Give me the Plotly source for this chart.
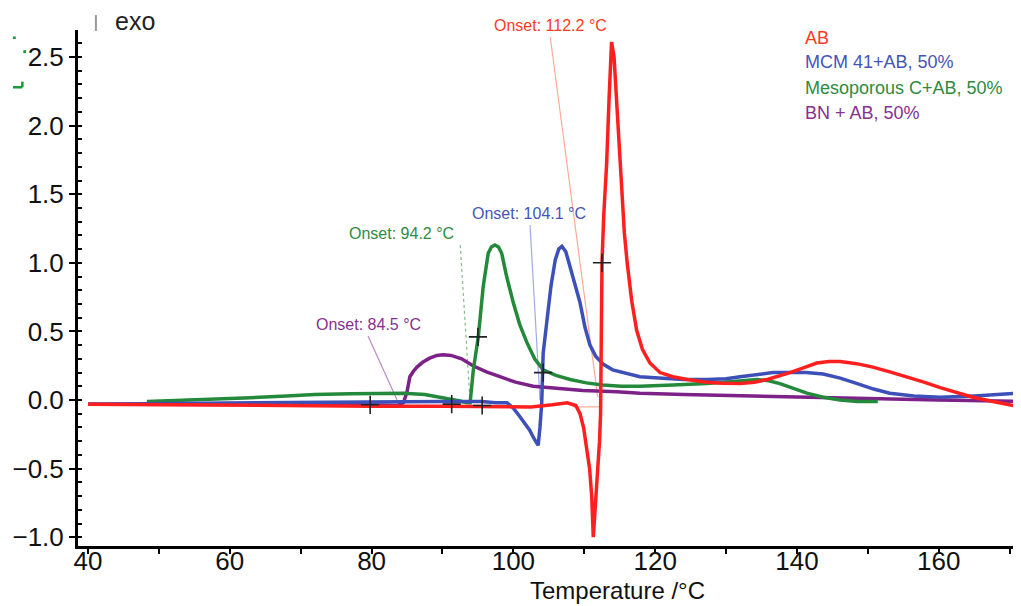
import plotly.graph_objects as go

# ---------------- data ----------------
ab_T = [40, 50, 60, 70, 80, 90, 98.5, 102.5, 105.5, 107.6, 108.8, 109.4, 109.9, 110.35, 110.75,
        111.05, 111.27, 111.5, 111.75, 111.98, 112.15, 112.3, 112.4, 112.5, 112.75, 113.15, 113.5,
        113.85, 114.2, 114.6, 114.95, 115.26, 115.65, 116.05, 116.7, 117.38, 118.2, 119.26, 120.68,
        122.5, 124.5, 127.3, 129.5, 132.0, 134, 135.8, 137.5, 139.0, 140.9, 142.8, 144.5, 146.1,
        148.4, 150.7, 153.1, 155.5, 157.9, 160.2, 162.5, 164.8, 168, 171.5]
ab_y = [-0.03, -0.035, -0.04, -0.04, -0.045, -0.045, -0.05, -0.05, -0.035, -0.02, -0.04, -0.1, -0.2,
        -0.34, -0.5, -0.7, -1.0, -0.82, -0.62, -0.46, -0.3, -0.1, 0.4, 1.0, 1.35, 1.72, 2.2, 2.61,
        2.5, 2.15, 1.8, 1.48, 1.22, 1.0, 0.72, 0.51, 0.37, 0.27, 0.2, 0.17, 0.15, 0.13, 0.122, 0.12,
        0.13, 0.15, 0.175, 0.2, 0.235, 0.27, 0.28, 0.28, 0.265, 0.24, 0.205, 0.17, 0.13, 0.09, 0.055,
        0.02, -0.015, -0.05]

mcm_T = [40, 50, 60, 70, 80, 90, 95.5, 97.5, 99.1, 100.0, 100.9, 101.6, 102.3, 102.9, 103.5, 103.75,
         104.0, 104.2, 104.7, 105.0, 105.3, 105.9, 106.4, 106.85, 107.4, 108.0, 108.7, 109.4, 110.1,
         110.8, 111.6, 112.7, 114.0, 115.45, 117.85, 120.5, 124, 127.3, 130, 132.0, 134.3, 136.6, 139,
         141.3, 143.7, 146.1, 148.5, 150.8, 153.1, 156.5, 160.2, 165, 171.5]
mcm_y = [-0.03, -0.025, -0.02, -0.02, -0.015, -0.01, -0.01, -0.02, -0.02, -0.06, -0.12, -0.17, -0.22,
         -0.28, -0.33, -0.2, -0.02, 0.34, 0.58, 0.71, 0.83, 1.02, 1.1, 1.12, 1.08, 0.97, 0.84, 0.71,
         0.53, 0.4, 0.32, 0.26, 0.22, 0.2, 0.17, 0.16, 0.15, 0.15, 0.155, 0.17, 0.185, 0.2, 0.2, 0.2,
         0.19, 0.16, 0.12, 0.08, 0.05, 0.03, 0.02, 0.03, 0.05]

mesoc_T = [48.3, 55, 62, 68, 72, 77, 81, 84.5, 87.5, 90.6, 92.3, 93.45, 93.9, 94.35, 95.05, 95.75,
           96.45, 96.9, 97.4, 97.9, 98.35, 99.05, 99.98, 100.9, 101.9, 103.0, 104.2, 106, 108.0,
           110.3, 112.6, 115.2, 117.85, 122.5, 127.3, 131, 134.4, 136.0, 137.6, 139.5, 141.4, 143.7,
           146.1, 148.5, 151.4]
mesoc_y = [-0.01, 0.0, 0.015, 0.03, 0.04, 0.045, 0.05, 0.05, 0.04, 0.015, -0.005, -0.02, -0.02, 0.22,
           0.46, 0.83, 1.07, 1.115, 1.13, 1.115, 1.07, 0.9, 0.71, 0.55, 0.42, 0.3, 0.22, 0.18, 0.15,
           0.125, 0.11, 0.1, 0.1, 0.11, 0.12, 0.135, 0.15, 0.14, 0.12, 0.085, 0.05, 0.02, 0.0, -0.01,
           -0.01]

bn_T = [40, 50, 60, 70, 80, 83.6, 84.5, 85.0, 85.4, 85.9, 86.4, 87.2, 88.2, 89.2, 90.1, 91.2, 92.7,
        94.3, 96.2, 98.1, 100.3, 102.8, 106, 109.8, 114.6, 117.85, 124, 132, 141.4, 150, 160, 171.5]
bn_y = [-0.03, -0.03, -0.03, -0.03, -0.035, -0.04, -0.02, 0.06, 0.17, 0.21, 0.24, 0.275, 0.305,
        0.325, 0.33, 0.325, 0.3, 0.25, 0.205, 0.17, 0.13, 0.1, 0.085, 0.07, 0.06, 0.05, 0.04, 0.03,
        0.02, 0.01, 0.0, -0.01]

series_names = ["AB", "MCM 41+AB, 50%", "Mesoporous C+AB, 50%", "BN + AB, 50%"]

# onset labels: text, label position, leader line end
onset_texts = ["Onset: 112.2 °C", "Onset: 104.1 °C", "Onset: 94.2 °C", "Onset: 84.5 °C"]
onset_label_T = [105.2, 102.2, 84.15, 79.5]
onset_label_y = [2.733, 1.363, 1.217, 0.547]
leader_T0 = [105.2, 102.35, 92.5, 79.5]
leader_y0 = [2.646, 1.275, 1.13, 0.466]
leader_T1 = [111.9, 103.75, 93.9, 83.6]
leader_y1 = [0.02, 0.0, -0.02, 0.0]

# red baseline extrapolation
ab_base_T = [108.4, 112.2]
ab_base_y = [-0.05, -0.05]

# evaluation marks (+)
mark_T = [112.5, 95.0, 104.2, 79.8, 91.3, 95.6]
mark_y = [1.0, 0.46, 0.2, -0.035, -0.03, -0.04]

# ---------------- styles ----------------
line_colors = ["#ff1f1f", "#3d4fb8", "#24893a", "#7d2189"]
text_colors = ["#ff3a22", "#4654b8", "#2f8a42", "#86308f"]
leader_colors = ["#ffab96", "#a3abe0", "#7fbf8c", "#b98cc2"]
FONT = "Liberation Sans, Arial, Helvetica, sans-serif"
X_RANGE = [38.59, 171.6]
Y_RANGE = [-1.064, 2.697]

fig = go.Figure()

series = [(ab_T, ab_y), (mcm_T, mcm_y), (mesoc_T, mesoc_y), (bn_T, bn_y)]
# leader lines first (underneath)
for i in range(4):
    fig.add_trace(go.Scatter(
        x=[leader_T0[i], leader_T1[i]], y=[leader_y0[i], leader_y1[i]],
        mode="lines", line=dict(color=leader_colors[i], width=1.2,
                                dash="dot" if i == 2 else "solid"),
        showlegend=False, hoverinfo="skip"))
fig.add_trace(go.Scatter(x=ab_base_T, y=ab_base_y, mode="lines",
                         line=dict(color=leader_colors[0], width=1.2),
                         showlegend=False, hoverinfo="skip"))

# draw order: BN, Meso C, MCM, AB (AB on top)
for i in [3, 2, 1, 0]:
    T, y = series[i]
    fig.add_trace(go.Scatter(x=T, y=y, mode="lines", name=series_names[i],
                             line=dict(color=line_colors[i], width=3.5),
                             showlegend=False))

fig.add_trace(go.Scatter(x=mark_T, y=mark_y, mode="markers",
                         marker=dict(symbol="cross-thin", size=13,
                                     line=dict(color="#222222", width=1.6)),
                         showlegend=False, hoverinfo="skip"))


def to_paper(v, rng):
    return (v - rng[0]) / (rng[1] - rng[0])


annotations = []
for i in range(4):
    # paper coordinates so labels above the plot top are still drawn
    annotations.append(dict(x=to_paper(onset_label_T[i], X_RANGE),
                            y=to_paper(onset_label_y[i], Y_RANGE),
                            xref="paper", yref="paper",
                            text=onset_texts[i], showarrow=False,
                            font=dict(family=FONT, size=16, color=text_colors[i]),
                            xanchor="center", yanchor="middle"))

legend_y = [0.9845, 0.938, 0.8876, 0.839]
for i in range(4):
    annotations.append(dict(x=0.769, y=legend_y[i], xref="paper", yref="paper",
                            text=series_names[i], showarrow=False,
                            font=dict(family=FONT, size=18, color=text_colors[i]),
                            xanchor="left", yanchor="middle"))

annotations.append(dict(x=0.0605, y=1.0175, xref="paper", yref="paper", text="exo",
                        showarrow=False, font=dict(family=FONT, size=25, color="#222222"),
                        xanchor="center", yanchor="middle"))
annotations.append(dict(x=0.5716, y=-0.087, xref="paper", yref="paper",
                        text="Temperature /°C", showarrow=False,
                        font=dict(family=FONT, size=24, color="#111111"),
                        xanchor="center", yanchor="middle"))

shapes = [
    dict(type="line", xref="paper", yref="paper", x0=0.019, x1=0.019, y0=0.998, y1=1.029,
         line=dict(color="#999999", width=2)),
    dict(type="line", xref="paper", yref="paper", x0=-0.069, x1=-0.059, y0=0.889, y1=0.889,
         line=dict(color="#1a9a3a", width=2.5)),
    dict(type="line", xref="paper", yref="paper", x0=-0.059, x1=-0.059, y0=0.889, y1=0.9,
         line=dict(color="#1a9a3a", width=2.5)),
    dict(type="line", xref="paper", yref="paper", x0=-0.069, x1=-0.066, y0=0.985, y1=0.985,
         line=dict(color="#1a9a3a", width=2.5)),
    dict(type="line", xref="paper", yref="paper", x0=-0.058, x1=-0.055, y0=0.958, y1=0.958,
         line=dict(color="#1a9a3a", width=3)),
]

# the page body has an 8px margin, so the figure is drawn 8px smaller
fig.update_layout(
    width=1013, height=598,
    margin=dict(l=70, r=0, t=22, b=60),
    paper_bgcolor="white", plot_bgcolor="white",
    font=dict(family=FONT, color="#111111"),
    annotations=annotations, shapes=shapes,
    xaxis=dict(range=X_RANGE, showline=True, linecolor="black", linewidth=3,
               ticks="outside", ticklen=5, tickwidth=2, tickcolor="black",
               tick0=40, dtick=20, showgrid=False, zeroline=False, ticklabelstandoff=-15,
               tickfont=dict(family=FONT, size=26, color="#111111"),
               minor=dict(dtick=10, tick0=40, ticks="outside", ticklen=5, tickwidth=2,
                          tickcolor="black", showgrid=False)),
    yaxis=dict(range=Y_RANGE, showline=True, linecolor="black", linewidth=3,
               ticks="outside", ticklen=6, tickwidth=2, tickcolor="black",
               tick0=0, dtick=0.5, tickformat=".1f", showgrid=False, zeroline=False,
               tickfont=dict(family=FONT, size=26, color="#111111"),
               minor=dict(dtick=0.1, ticks="inside", ticklen=4, tickwidth=1.5,
                          tickcolor="black", showgrid=False)),
)

fig.write_html("out.html")
